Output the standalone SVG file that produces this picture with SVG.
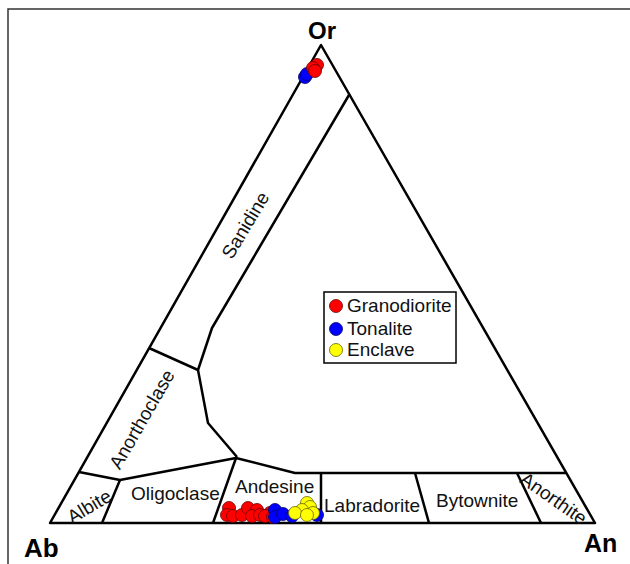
<svg xmlns="http://www.w3.org/2000/svg" width="630" height="564" viewBox="0 0 630 564">
<style>
.ln{fill:none;stroke:#000;stroke-width:2.5;stroke-linejoin:round}
.lb{font-family:"Liberation Sans",Arial,sans-serif;font-size:19px;fill:#111}
.ax{font-family:"Liberation Sans",Arial,sans-serif;font-weight:bold;fill:#000}
.r{fill:#f00;stroke:#600;stroke-width:0.8}
.b{fill:#00f;stroke:#006;stroke-width:0.8}
.y{fill:#ff0;stroke:#660;stroke-width:0.8}
</style>
<rect width="630" height="564" fill="#fff"/>
<path d="M8,564 V9 H630" fill="none" stroke="#333" stroke-width="1.5"/>
<g id="connectors">
<polygon class="ln" points="50,523 595,523 321,45"/>
<polyline class="ln" points="349,95 212,328 198,370 208,423 237,457"/>
<line class="ln" x1="149" y1="348" x2="198" y2="370"/>
<polyline class="ln" points="79,472 120,480 236,458 295,473 566,473"/>
<line class="ln" x1="120" y1="480" x2="102" y2="523"/>
<line class="ln" x1="236" y1="458" x2="213" y2="523"/>
<line class="ln" x1="321" y1="473" x2="321" y2="523"/>
<line class="ln" x1="415" y1="473" x2="429" y2="523"/>
<line class="ln" x1="517" y1="473" x2="541" y2="523"/>
</g>
<g id="vertex-or"><text class="ax" x="322" y="39" font-size="24" text-anchor="middle">Or</text></g>
<g id="vertex-ab"><text class="ax" x="24" y="557" font-size="26">Ab</text></g>
<g id="vertex-an"><text class="ax" x="584" y="552" font-size="25">An</text></g>
<g id="field-sanidine"><text class="lb" text-anchor="middle" transform="translate(245,225) rotate(-59)" y="7">Sanidine</text></g>
<g id="field-anorthoclase"><text class="lb" text-anchor="middle" transform="translate(141.5,419) rotate(-60)" y="7">Anorthoclase</text></g>
<g id="field-albite"><text class="lb" text-anchor="middle" transform="translate(89,506) rotate(-31)" y="7">Albite</text></g>
<g id="field-oligoclase"><text class="lb" x="131" y="500">Oligoclase</text></g>
<g id="field-andesine"><text class="lb" x="235" y="493">Andesine</text></g>
<g id="field-labradorite"><text class="lb" x="324" y="512">Labradorite</text></g>
<g id="field-bytownite"><text class="lb" x="436" y="507">Bytownite</text></g>
<g id="field-anorthite"><text class="lb" text-anchor="middle" transform="translate(554,498) rotate(35)" y="7">Anorthite</text></g>
<g id="data-or">
<circle class="b" cx="305" cy="77" r="6.5"/>
<circle class="b" cx="307" cy="74" r="6.5"/>
<circle class="r" cx="317" cy="65" r="6.5"/>
<circle class="r" cx="313" cy="68" r="6.5"/>
<circle class="r" cx="315" cy="71" r="6.5"/>
</g>
<g id="data-plag">
<circle class="r" cx="229" cy="508" r="6.5"/>
<circle class="r" cx="227" cy="515" r="6.5"/>
<circle class="r" cx="233" cy="516" r="6.5"/>
<circle class="r" cx="242" cy="515" r="6.5"/>
<circle class="r" cx="248" cy="508" r="6.5"/>
<circle class="r" cx="257" cy="510" r="6.5"/>
<circle class="r" cx="252" cy="516" r="6.5"/>
<circle class="r" cx="260" cy="515" r="6.5"/>
<circle class="r" cx="270" cy="513" r="6.5"/>
<circle class="r" cx="265" cy="516" r="6.5"/>
<circle class="r" cx="273" cy="517" r="6.5"/>
<circle class="b" cx="275" cy="510" r="6.5"/>
<circle class="b" cx="275" cy="517" r="6.5"/>
<circle class="b" cx="283" cy="514" r="6.5"/>
<circle class="b" cx="292" cy="516" r="6.5"/>
<circle class="b" cx="312" cy="512" r="6.5"/>
<circle class="b" cx="317" cy="515" r="6.5"/>
<circle class="y" cx="307" cy="503" r="6.5"/>
<circle class="y" cx="310" cy="507" r="6.5"/>
<circle class="y" cx="302" cy="510" r="6.5"/>
<circle class="y" cx="295" cy="513" r="6.5"/>
<circle class="y" cx="313" cy="513" r="6.5"/>
<circle class="y" cx="307" cy="515" r="6.5"/>
</g>
<g id="legend">
<rect x="324" y="292" width="132" height="71" fill="#fff" stroke="#000" stroke-width="1.5"/>
<circle class="r" cx="336" cy="306" r="6.5"/>
<circle class="b" cx="336" cy="329" r="6.5"/>
<circle class="y" cx="336" cy="350" r="6.5"/>
<text class="lb" x="347" y="312">Granodiorite</text>
<text class="lb" x="347" y="335">Tonalite</text>
<text class="lb" x="347" y="356">Enclave</text>
</g>
</svg>
